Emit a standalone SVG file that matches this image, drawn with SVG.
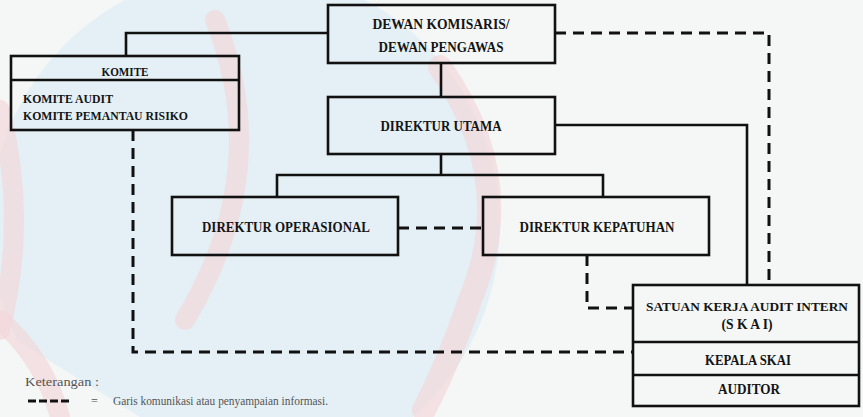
<svg xmlns="http://www.w3.org/2000/svg" width="863" height="417" viewBox="0 0 863 417">
<style>
.box{fill:none;stroke:#111;stroke-width:2.6}
.ln{fill:none;stroke:#111;stroke-width:2.6}
.dash{fill:none;stroke:#111;stroke-width:3;stroke-dasharray:11 7}
.t{font-family:"Liberation Serif","Times New Roman",serif;font-weight:bold;font-size:15px;fill:#141414;text-anchor:middle}
.ts{font-family:"Liberation Serif","Times New Roman",serif;font-weight:bold;font-size:13.5px;fill:#141414}
.lg{font-family:"Liberation Serif","Times New Roman",serif;font-size:12px;fill:#555}
.wm{fill:none;stroke:#f3d6d9;stroke-linecap:round;opacity:0.65}
</style>
<g id="background">
<rect x="0" y="0" width="863" height="417" fill="#f5f7f7"/>
<circle cx="245" cy="225" r="255" fill="#e0eff4" opacity="0.85"/>
<path d="M0 330 L140 417 L0 417 Z" fill="#f5f7f7"/>
<path d="M440 67 Q520 180 470 300 Q450 360 424 410" class="wm" stroke-width="24"/>
<path d="M215 20 Q275 170 185 320" class="wm" stroke-width="20"/>
<path d="M0 110 Q28 220 0 330" class="wm" stroke-width="20"/>
<path d="M0 320 Q45 360 60 417" class="wm" stroke-width="20"/>
</g>
<g id="connectors">
<polyline class="ln" points="328,33 126,33 126,56"/>
<line class="ln" x1="441" y1="63" x2="441" y2="97"/>
<line class="ln" x1="441" y1="154" x2="441" y2="175"/>
<polyline class="ln" points="277,197 277,175 603,175 603,197"/>
<polyline class="ln" points="555,125 747,125 747,285"/>
<polyline class="dash" points="555,33 769,33 769,285"/>
<polyline class="dash" points="133,130 133,352 633,352"/>
<line class="dash" x1="398" y1="228" x2="483" y2="228"/>
<polyline class="dash" points="587,255 587,308 633,308"/>
</g>
<g id="dewan">
<rect class="box" x="328" y="5" width="227" height="58"/>
<text class="t" x="441" y="29" textLength="137" lengthAdjust="spacingAndGlyphs">DEWAN KOMISARIS/</text>
<text class="t" x="441" y="52" textLength="125" lengthAdjust="spacingAndGlyphs">DEWAN PENGAWAS</text>
</g>
<g id="komite">
<rect class="box" x="11" y="56" width="228" height="74"/>
<line class="ln" x1="11" y1="80" x2="239" y2="80"/>
<text class="ts" x="125" y="76" text-anchor="middle" textLength="47" lengthAdjust="spacingAndGlyphs">KOMITE</text>
<text class="ts" x="23" y="103" textLength="90" lengthAdjust="spacingAndGlyphs">KOMITE AUDIT</text>
<text class="ts" x="23" y="120" textLength="165" lengthAdjust="spacingAndGlyphs">KOMITE PEMANTAU RISIKO</text>
</g>
<g id="dirut">
<rect class="box" x="328" y="97" width="227" height="57"/>
<text class="t" x="441" y="131" textLength="121" lengthAdjust="spacingAndGlyphs">DIREKTUR UTAMA</text>
</g>
<g id="dirop">
<rect class="box" x="172" y="197" width="226" height="58"/>
<text class="t" x="286" y="232" textLength="168" lengthAdjust="spacingAndGlyphs">DIREKTUR OPERASIONAL</text>
</g>
<g id="dirkep">
<rect class="box" x="483" y="197" width="226" height="58"/>
<text class="t" x="597" y="232" textLength="155" lengthAdjust="spacingAndGlyphs">DIREKTUR KEPATUHAN</text>
</g>
<g id="skai">
<rect class="box" x="633" y="285" width="226" height="121"/>
<line class="ln" x1="633" y1="342" x2="859" y2="342"/>
<line class="ln" x1="633" y1="375" x2="859" y2="375"/>
<text class="t" x="747" y="311" font-size="13.5" textLength="202" lengthAdjust="spacingAndGlyphs" style="font-size:13.5px">SATUAN KERJA AUDIT INTERN</text>
<text class="t" x="747" y="329" textLength="51" lengthAdjust="spacingAndGlyphs">(S K A I)</text>
<text class="t" x="748" y="365" textLength="86" lengthAdjust="spacingAndGlyphs">KEPALA SKAI</text>
<text class="t" x="749" y="394" textLength="62" lengthAdjust="spacingAndGlyphs">AUDITOR</text>
</g>
<g id="legend">
<text class="lg" x="25" y="386" textLength="74" lengthAdjust="spacingAndGlyphs">Keterangan :</text>
<line x1="28" y1="401" x2="70" y2="401" stroke="#111" stroke-width="3" stroke-dasharray="8 3"/>
<text class="lg" x="91" y="405">=</text>
<text class="lg" x="113" y="405" textLength="215" lengthAdjust="spacingAndGlyphs">Garis komunikasi atau penyampaian informasi.</text>
</g>
</svg>
